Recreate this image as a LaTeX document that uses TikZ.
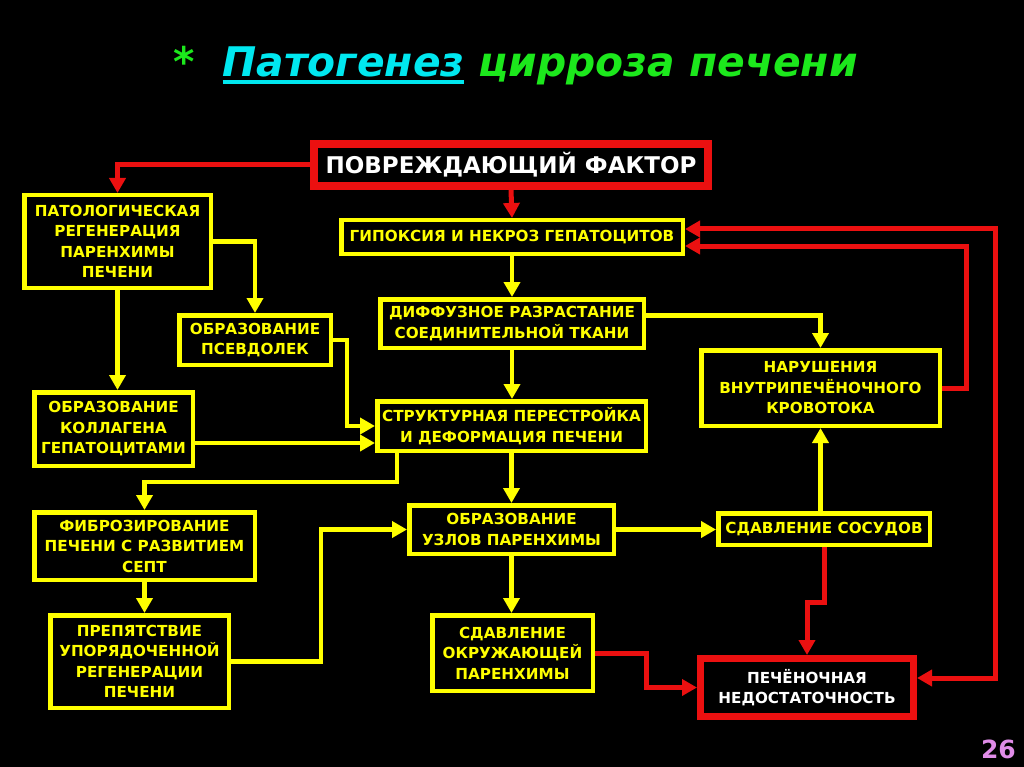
\documentclass[tikz,border=0pt]{standalone}
\usepackage{fontspec}
\setmainfont{DejaVu Sans}
\usetikzlibrary{arrows.meta}

\definecolor{slideyellow}{RGB}{255,255,0}
\definecolor{slidered}{RGB}{235,16,16}
\definecolor{slidegreen}{RGB}{28,232,28}
\definecolor{slidecyan}{RGB}{0,232,240}
\definecolor{slidepink}{RGB}{224,140,232}

\newcommand{\thickul}[1]{\setbox0\hbox{#1}\rlap{\rule[-7pt]{\wd0}{4pt}}\box0}

\begin{document}
\begin{tikzpicture}[x=1pt, y=-1pt,
    boxtext/.style={font=\bfseries\fontsize{15.2}{20.5}\selectfont, align=center, inner sep=0pt},
    ybox/.style={boxtext, draw=slideyellow, line width=4.5pt, text=slideyellow},
    rbox/.style={boxtext, draw=slidered, text=white},
    yarrow/.style={draw=slideyellow, line width=4.5pt, -{Triangle[length=15pt, width=16pt]}},
    rarrow/.style={draw=slidered, line width=5pt, -{Triangle[length=15pt, width=16pt]}}]
    \fill[black] (0, 0) rectangle (1024, 767);

    % title and slide number
    \node[anchor=base west, inner sep=0pt, font=\bfseries\itshape\fontsize{40.8}{48}\selectfont] (title) at (173, 77)
        {{\color{slidegreen}*}\hspace{28pt}{\color{slidecyan}\thickul{Патогенез}} {\color{slidegreen}цирроза печени}};
    \node[anchor=base east, inner sep=0pt, text=slidepink, font=\bfseries\fontsize{25}{30}\selectfont] (pagenum) at (1016, 758) {26};

    % boxes
    \node[rbox, line width=8pt, font=\bfseries\fontsize{23}{28}\selectfont, minimum width=394pt, minimum height=42pt] (factor) at (511, 165) {ПОВРЕЖДАЮЩИЙ ФАКТОР};
    \node[ybox, minimum width=186.5pt, minimum height=92.5pt] (patreg) at (117.5, 241.5) {ПАТОЛОГИЧЕСКАЯ\\РЕГЕНЕРАЦИЯ\\ПАРЕНХИМЫ\\ПЕЧЕНИ};
    \node[ybox, minimum width=341.5pt, minimum height=33.5pt] (hypox) at (512, 237) {ГИПОКСИЯ И НЕКРОЗ ГЕПАТОЦИТОВ};
    \node[ybox, minimum width=151.5pt, minimum height=49.5pt] (pseudo) at (255, 340) {ОБРАЗОВАНИЕ\\ПСЕВДОЛЕК};
    \node[ybox, minimum width=263.5pt, minimum height=48.5pt] (diffuse) at (512, 323.5) {ДИФФУЗНОЕ РАЗРАСТАНИЕ\\СОЕДИНИТЕЛЬНОЙ ТКАНИ};
    \node[ybox, minimum width=238.5pt, minimum height=75.5pt] (blood) at (820.5, 388) {НАРУШЕНИЯ\\ВНУТРИПЕЧЁНОЧНОГО\\КРОВОТОКА};
    \node[ybox, minimum width=158.5pt, minimum height=73.5pt] (collagen) at (113.5, 429) {ОБРАЗОВАНИЕ\\КОЛЛАГЕНА\\ГЕПАТОЦИТАМИ};
    \node[ybox, minimum width=268.5pt, minimum height=49.5pt] (restruct) at (511.5, 426) {СТРУКТУРНАЯ ПЕРЕСТРОЙКА\\И ДЕФОРМАЦИЯ ПЕЧЕНИ};
    \node[ybox, minimum width=220.5pt, minimum height=67.5pt] (fibrosis) at (144.5, 546) {ФИБРОЗИРОВАНИЕ\\ПЕЧЕНИ С РАЗВИТИЕМ\\СЕПТ};
    \node[ybox, minimum width=204.5pt, minimum height=48.5pt] (nodules) at (511.5, 529.5) {ОБРАЗОВАНИЕ\\УЗЛОВ ПАРЕНХИМЫ};
    \node[ybox, minimum width=211.5pt, minimum height=31.5pt] (vessels) at (824, 529) {СДАВЛЕНИЕ СОСУДОВ};
    \node[ybox, minimum width=178.5pt, minimum height=92.5pt] (obstacle) at (139.5, 661.5) {ПРЕПЯТСТВИЕ\\УПОРЯДОЧЕННОЙ\\РЕГЕНЕРАЦИИ\\ПЕЧЕНИ};
    \node[ybox, minimum width=160.5pt, minimum height=75.5pt] (squeeze) at (512.5, 653) {СДАВЛЕНИЕ\\ОКРУЖАЮЩЕЙ\\ПАРЕНХИМЫ};
    \node[rbox, line width=7pt, minimum width=213pt, minimum height=58pt] (failure) at (807, 687.5) {ПЕЧЁНОЧНАЯ\\НЕДОСТАТОЧНОСТЬ};

    % red links
    \draw[rarrow] (factor.west) -| (patreg.north);
    \draw[rarrow] (factor.south) -- (hypox.north);
    \draw[rarrow] (blood.east) -- ++(24, 0) |- ([yshift=-9pt]hypox.east);
    \draw[rarrow, {Triangle[length=15pt, width=16pt]}-{Triangle[length=15pt, width=16pt]}]
        ([yshift=8pt]hypox.east) -- ++(310, 0) |- ([yshift=9.5pt]failure.east);
    \draw[rarrow] (vessels.south) -- ++(0, 55) -| (failure.north);
    \draw[rarrow] (squeeze.east) -- ++(51, 0) |- (failure.west);

    % yellow links
    \draw[yarrow] (patreg.east) -| (pseudo.north);
    \draw[yarrow] (patreg.south) -- (patreg.south |- collagen.north);
    \draw[yarrow] (pseudo.east) -- ++(14, 0) |- (restruct.west);
    \draw[yarrow] ([yshift=-14pt]collagen.east) -- ([yshift=-14pt]collagen.east -| restruct.west);
    \draw[yarrow] ([yshift=8pt]diffuse.east) -| (blood.north);
    \draw[yarrow] ([xshift=22pt]restruct.south west) -- ++(0, 29) -| (fibrosis.north);
    \draw[yarrow] (fibrosis.south) -- (fibrosis.south |- obstacle.north);
    \draw[yarrow] (obstacle.east) -- ++(90, 0) |- (nodules.west);
    \draw[yarrow] (nodules.east) -- (nodules.east -| vessels.west);
    \draw[yarrow] (vessels.north -| blood.south) -- (blood.south);
    \foreach \a/\b in {hypox/diffuse, diffuse/restruct, restruct/nodules, nodules/squeeze} {
        \draw[yarrow] (\a.south) -- (\a.south |- \b.north);
    }
\end{tikzpicture}
\end{document}
